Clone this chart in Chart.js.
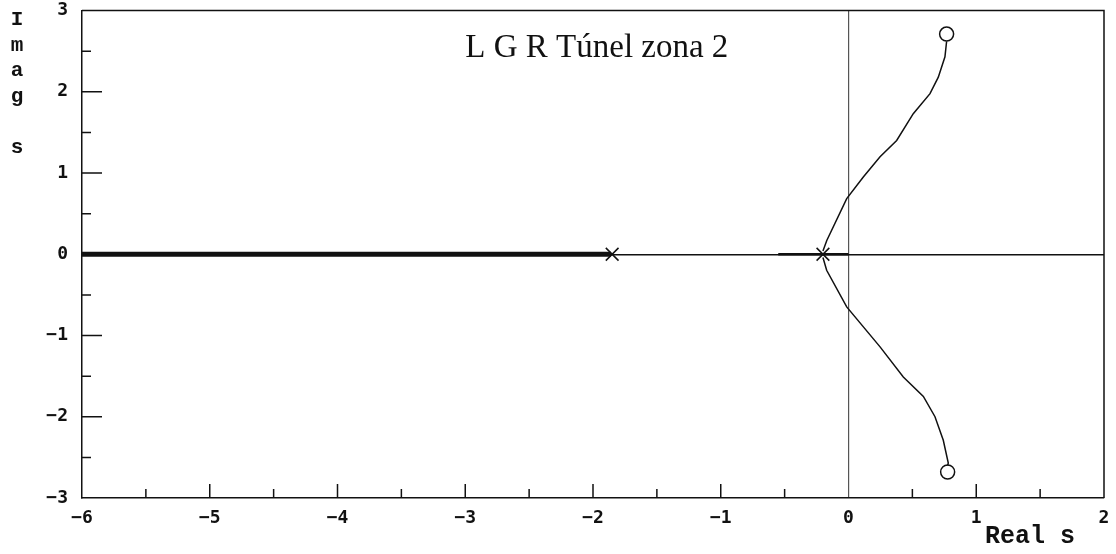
<!DOCTYPE html>
<html>
<head>
<meta charset="utf-8">
<script src="https://cdn.jsdelivr.net/npm/chart.js@4"></script>
<style>
  html, body { margin:0; padding:0; background:#fff; }
  #wrap { width:1116px; height:554px; }
</style>
</head>
<body>
<div id="wrap"><canvas id="rl"></canvas></div>
<script>
// root locus data
const poles = [[-1.85, 0], [-0.2, 0]];
const zeros = [[0.768, 2.71], [0.776, -2.68]];
const upperX = [-0.2, -0.17, -0.014, 0.116, 0.247, 0.377, 0.507, 0.638, 0.703, 0.755, 0.768];
const upperY = [0.04, 0.17, 0.685, 0.95, 1.2, 1.4, 1.73, 1.976, 2.18, 2.43, 2.62];
const lowerX = [-0.2, -0.171, -0.014, 0.247, 0.429, 0.586, 0.677, 0.742, 0.781, 0.776];
const lowerY = [-0.04, -0.197, -0.648, -1.14, -1.51, -1.75, -2.0, -2.29, -2.57, -2.6];
const realAxisX = [-6, -1.86];
const nearOriginX = [-0.55, 0];
const xTicks = [-6, -5, -4, -3, -2, -1, 0, 1, 2];
const yTicks = [-3, -2, -1, 0, 1, 2, 3];
const title = 'L G R Túnel zona 2';
const yTitle = ['I', 'm', 'a', 'g', '', 's'];
const xTitle = 'Real s';

const pts = (xs, ys) => xs.map((x, i) => ({x, y: ys[i]}));
const fmt = v => (v < 0 ? '\u2212' : '') + Math.abs(v);

const overlay = {
  id: 'overlay',
  afterDraw(chart){
    const {ctx, chartArea:a, scales:{x, y}} = chart;
    ctx.save();
    ctx.strokeStyle = '#111'; ctx.lineWidth = 1.5;
    ctx.beginPath();
    ctx.moveTo(a.left, a.top); ctx.lineTo(a.right, a.top); ctx.lineTo(a.right, a.bottom);
    ctx.stroke();
    // inward ticks
    ctx.beginPath();
    for (let v = -3; v <= 3; v += 0.5) {
      if (v === 3 || v === -3 || v === 0) continue;
      const len = Number.isInteger(v) ? 20 : 9;
      const py = y.getPixelForValue(v);
      ctx.moveTo(a.left, py); ctx.lineTo(a.left + len, py);
    }
    for (let v = -6; v <= 2; v += 0.5) {
      if (v === -6 || v === 2 || v === 0) continue;
      const len = Number.isInteger(v) ? 14 : 9;
      const px = x.getPixelForValue(v);
      ctx.moveTo(px, a.bottom); ctx.lineTo(px, a.bottom - len);
    }
    ctx.stroke();
    // titles
    ctx.fillStyle = '#111';
    ctx.font = 'bold 21px "Liberation Mono"';
    ctx.textAlign = 'center'; ctx.textBaseline = 'middle';
    yTitle.forEach((c, i) => ctx.fillText(c, 17, 20 + i * 25.5));
    ctx.font = 'bold 25px "Liberation Mono"';
    ctx.fillText(xTitle, 1030, 537);
    ctx.font = '33px "Liberation Serif"';
    ctx.fillText(title, x.getPixelForValue(-1.97), y.getPixelForValue(2.53));
    ctx.restore();
  }
};

const line = (data, w) => ({
  type:'line', data, showLine:true, borderColor:'#111', borderWidth:w,
  pointRadius:0, tension:0, fill:false
});

new Chart(document.getElementById('rl'), {
  type:'scatter',
  data:{
    datasets:[
      line(realAxisX.map(v => ({x:v, y:0})), 5),
      line(nearOriginX.map(v => ({x:v, y:0})), 2.5),
      line(pts(upperX, upperY), 1.5),
      line(pts(lowerX, lowerY), 1.5),
      { data: poles.map(p => ({x:p[0], y:p[1]})), pointStyle:'crossRot', pointRadius:9,
        borderColor:'#111', borderWidth:1.5, backgroundColor:'#111' },
      { data: zeros.map(p => ({x:p[0], y:p[1]})), pointStyle:'circle', pointRadius:7,
        borderColor:'#111', borderWidth:1.5, backgroundColor:'#fff' }
    ]
  },
  options:{
    responsive:true, maintainAspectRatio:false, animation:false,
    layout:{ padding:{ top:10, right:12, left:0, bottom:0 } },
    plugins:{ legend:{display:false}, tooltip:{enabled:false}, title:{display:false} },
    scales:{
      x:{
        type:'linear', min:-6, max:2,
        afterFit: s => { s.height = 56; s.paddingLeft = 0; s.paddingRight = 0; },
        afterBuildTicks: s => { s.ticks = xTicks.map(v => ({value:v})); },
        ticks:{ padding:10, color:'#111', font:{family:'DejaVu Sans Mono', weight:'bold', size:18},
          callback: fmt, maxRotation:0, autoSkip:false },
        grid:{ drawTicks:false, lineWidth:1.2,
          color: c => c.tick && c.tick.value === 0 ? '#555' : 'rgba(0,0,0,0)' },
        border:{ display:true, color:'#111', width:1.5 }
      },
      y:{
        type:'linear', min:-3, max:3,
        afterFit: s => { s.width = 82; s.paddingTop = 0; s.paddingBottom = 0; },
        afterBuildTicks: s => { s.ticks = yTicks.map(v => ({value:v})); },
        ticks:{ padding:14, color:'#111', font:{family:'DejaVu Sans Mono', weight:'bold', size:18},
          callback: fmt, autoSkip:false },
        grid:{ drawTicks:false, lineWidth:1.5,
          color: c => c.tick && c.tick.value === 0 ? '#111' : 'rgba(0,0,0,0)' },
        border:{ display:true, color:'#111', width:1.5 }
      }
    }
  },
  plugins:[overlay]
});
</script>
</body>
</html>
